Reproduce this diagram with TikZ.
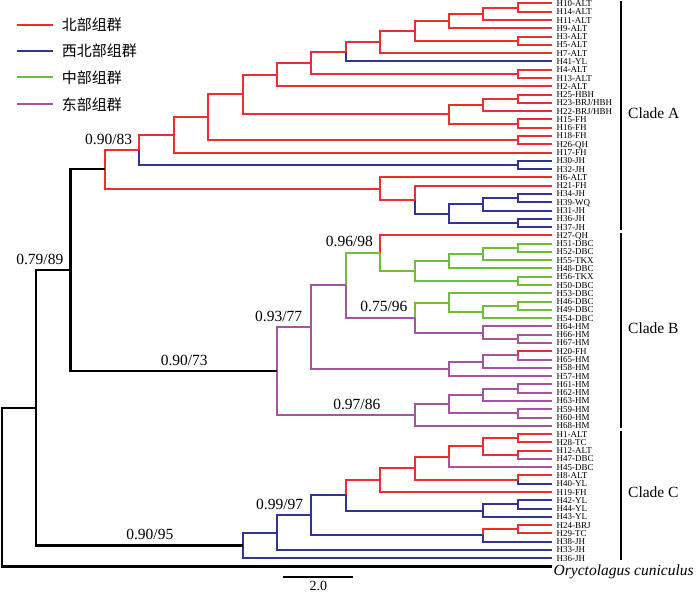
\documentclass[tikz,border=0pt]{standalone}
\usepackage{fontspec}
\setmainfont{Liberation Serif}
\newfontfamily\cjk{Noto Sans CJK SC}
\usetikzlibrary{calc}

\definecolor{northred}{RGB}{237,45,50}
\definecolor{nwblue}{RGB}{50,52,145}
\definecolor{centralgreen}{RGB}{110,190,60}
\definecolor{eastpurple}{RGB}{165,85,160}

\tikzset{
  branch/.style={line width=2pt},
  stem/.style={line width=2.3pt},
  leaf/.style={anchor=west, inner xsep=4.5pt, inner ysep=0pt, text height=6pt, text depth=0pt, font=\fontsize{9}{9}\selectfont},
  support/.style={anchor=base east, inner sep=0pt, font=\fontsize{15.5}{17}\selectfont},
  cladelab/.style={anchor=west, inner sep=0pt, font=\fontsize{15.5}{17}\selectfont},
  legendlab/.style={anchor=west, inner sep=0pt, font=\cjk\fontsize{15}{17}\selectfont},
}

% node #1 at depth #2 over children #3 (upper) and #4 (lower), colours #5 and #6
\newcommand\joinclade[6]{%
  \path let \p1=($(#3)!0.5!(#4)$) in coordinate (#1) at ({1.7pt+34.4pt*#2},\y1);
  \draw[branch,#5] (#1) |- (#3);
  \draw[branch,#6] (#1) |- (#4);
}

\begin{document}
\begin{tikzpicture}[x=1pt,y=-1pt]
    \useasboundingbox (0,0) rectangle (700,594);

    % legend
    \draw[branch,northred] (17.3,25) -- (53.3,25);
    \node[legendlab] (lg1) at (61.7,25) {北部组群};
    \draw[branch,nwblue] (17.3,50.7) -- (53.3,50.7);
    \node[legendlab] (lg2) at (61.7,50.7) {西北部组群};
    \draw[branch,centralgreen] (17.3,77.3) -- (53.3,77.3);
    \node[legendlab] (lg3) at (61.7,77.3) {中部组群};
    \draw[branch,eastpurple] (17.3,104.3) -- (53.3,104.3);
    \node[legendlab] (lg4) at (61.7,104.3) {东部组群};

    % haplotypes
    \foreach \lab [count=\i from 0] in {H10-ALT,H14-ALT,H11-ALT,H9-ALT,H3-ALT,H5-ALT,H7-ALT,H41-YL,
        H4-ALT,H13-ALT,H2-ALT,H25-HBH,H23-BRJ/HBH,H22-BRJ/HBH,H15-FH,H16-FH,H18-FH,H26-QH,H17-FH,
        H30-JH,H32-JH,H6-ALT,H21-FH,H34-JH,H39-WQ,H31-JH,H36-JH,H37-JH,
        H27-QH,H51-DBC,H52-DBC,H55-TKX,H48-DBC,H56-TKX,H50-DBC,H53-DBC,H46-DBC,H49-DBC,H54-DBC,
        H64-HM,H66-HM,H67-HM,H20-FH,H65-HM,H58-HM,H57-HM,H61-HM,H62-HM,H63-HM,H59-HM,H60-HM,H68-HM,
        H1-ALT,H28-TC,H12-ALT,H47-DBC,H45-DBC,H8-ALT,H40-YL,H19-FH,H42-YL,H44-YL,H43-YL,
        H24-BRJ,H29-TC,H38-JH,H33-JH,H36-JH}
        \node[leaf] (t\i) at (552,{3.5+8.28*\i}) {\lab};
    % outgroup
    \coordinate (t68) at (552,566.5);
    \node[anchor=base west, inner sep=0pt, font=\itshape\fontsize{15.5}{17}\selectfont] (og) at (553.5,575) {Oryctolagus cuniculus};

    % clade A
    \joinclade{a1}{15}{t0}{t1}{northred}{northred}
    \joinclade{a2}{14}{a1}{t2}{northred}{northred}
    \joinclade{a3}{13}{a2}{t3}{northred}{northred}
    \joinclade{a4}{15}{t4}{t5}{northred}{northred}
    \joinclade{a5}{12}{a3}{a4}{northred}{northred}
    \joinclade{a6}{11}{a5}{t6}{northred}{northred}
    \joinclade{a7}{10}{a6}{t7}{northred}{nwblue}
    \joinclade{a8}{15}{t8}{t9}{northred}{northred}
    \joinclade{a9}{9}{a7}{a8}{northred}{northred}
    \joinclade{a10}{8}{a9}{t10}{northred}{northred}
    \joinclade{a11}{15}{t11}{t12}{northred}{northred}
    \joinclade{a12}{14}{a11}{t13}{northred}{northred}
    \joinclade{a13}{15}{t14}{t15}{northred}{northred}
    \joinclade{a14}{13}{a12}{a13}{northred}{northred}
    \joinclade{a15}{7}{a10}{a14}{northred}{northred}
    \joinclade{a16}{15}{t16}{t17}{northred}{northred}
    \joinclade{a17}{6}{a15}{a16}{northred}{northred}
    \joinclade{a18}{5}{a17}{t18}{northred}{northred}
    \joinclade{a19}{15}{t19}{t20}{nwblue}{nwblue}
    \joinclade{a20}{4}{a18}{a19}{northred}{nwblue}
    \joinclade{a21}{15}{t23}{t24}{nwblue}{nwblue}
    \joinclade{a22}{14}{a21}{t25}{nwblue}{nwblue}
    \joinclade{a23}{15}{t26}{t27}{nwblue}{nwblue}
    \joinclade{a24}{13}{a22}{a23}{nwblue}{nwblue}
    \joinclade{a25}{12}{t22}{a24}{northred}{nwblue}
    \joinclade{a26}{11}{t21}{a25}{northred}{northred}
    \joinclade{a27}{3}{a20}{a26}{northred}{northred}

    % clade B
    \joinclade{b1}{15}{t29}{t30}{centralgreen}{centralgreen}
    \joinclade{b2}{14}{b1}{t31}{centralgreen}{centralgreen}
    \joinclade{b3}{13}{b2}{t32}{centralgreen}{centralgreen}
    \joinclade{b4}{15}{t33}{t34}{centralgreen}{centralgreen}
    \joinclade{b5}{12}{b3}{b4}{centralgreen}{centralgreen}
    \joinclade{b6}{11}{t28}{b5}{northred}{centralgreen}
    \joinclade{b7}{15}{t36}{t37}{centralgreen}{centralgreen}
    \joinclade{b8}{14}{b7}{t38}{centralgreen}{centralgreen}
    \joinclade{b9}{13}{t35}{b8}{centralgreen}{centralgreen}
    \joinclade{b10}{15}{t40}{t41}{eastpurple}{eastpurple}
    \joinclade{b11}{14}{t39}{b10}{eastpurple}{eastpurple}
    \joinclade{b12}{12}{b9}{b11}{centralgreen}{eastpurple}
    \joinclade{b13}{10}{b6}{b12}{centralgreen}{eastpurple}
    \joinclade{b14}{15}{t42}{t43}{northred}{eastpurple}
    \joinclade{b15}{14}{b14}{t44}{eastpurple}{eastpurple}
    \joinclade{b16}{13}{b15}{t45}{eastpurple}{eastpurple}
    \joinclade{b17}{9}{b13}{b16}{eastpurple}{eastpurple}
    \joinclade{b18}{15}{t46}{t47}{eastpurple}{eastpurple}
    \joinclade{b19}{14}{b18}{t48}{eastpurple}{eastpurple}
    \joinclade{b20}{15}{t49}{t50}{eastpurple}{eastpurple}
    \joinclade{b21}{13}{b19}{b20}{eastpurple}{eastpurple}
    \joinclade{b22}{12}{b21}{t51}{eastpurple}{eastpurple}
    \joinclade{b23}{8}{b17}{b22}{eastpurple}{eastpurple}

    % clade C
    \joinclade{c1}{15}{t52}{t53}{northred}{northred}
    \joinclade{c2}{15}{t54}{t55}{northred}{eastpurple}
    \joinclade{c3}{14}{c1}{c2}{northred}{northred}
    \joinclade{c4}{13}{c3}{t56}{northred}{eastpurple}
    \joinclade{c5}{15}{t57}{t58}{northred}{nwblue}
    \joinclade{c6}{12}{c4}{c5}{northred}{northred}
    \joinclade{c7}{11}{c6}{t59}{northred}{northred}
    \joinclade{c8}{15}{t60}{t61}{nwblue}{nwblue}
    \joinclade{c9}{14}{c8}{t62}{nwblue}{nwblue}
    \joinclade{c10}{10}{c7}{c9}{northred}{nwblue}
    \joinclade{c11}{15}{t63}{t64}{northred}{northred}
    \joinclade{c12}{14}{c11}{t65}{northred}{nwblue}
    \joinclade{c13}{9}{c10}{c12}{nwblue}{nwblue}
    \joinclade{c14}{8}{c13}{t66}{nwblue}{nwblue}
    \joinclade{c15}{7}{c14}{t67}{nwblue}{nwblue}

    % backbone
    \joinclade{r2}{2}{a27}{b23}{black,stem}{black,stem}
    \joinclade{r1}{1}{r2}{c15}{black,stem}{black,stem}
    \joinclade{root}{0}{r1}{t68}{black,stem}{black,stem}

    % support values
    \node[support] (s1) at ([xshift=-7pt,yshift=5.5pt]a20) {0.90/83};
    \node[support] (s2) at ([xshift=-7pt,yshift=5.5pt]r2) {0.79/89};
    \node[support] (s3) at ([xshift=-69pt,yshift=5.5pt]b23) {0.90/73};
    \node[support] (s4) at ([xshift=-9pt,yshift=6pt]b17) {0.93/77};
    \node[support] (s5) at ([xshift=-7pt,yshift=6.5pt]b6) {0.96/98};
    \node[support] (s6) at ([xshift=-7pt,yshift=6.5pt]b12) {0.75/96};
    \node[support] (s7) at ([xshift=-34pt,yshift=5.5pt]b22) {0.97/86};
    \node[support] (s8) at ([xshift=-8pt,yshift=5.5pt]c13) {0.99/97};
    \node[support] (s9) at ([xshift=-69pt,yshift=5.5pt]c15) {0.90/95};

    % clade bars
    \coordinate (ca1) at (621,1);    \coordinate (ca2) at (621,229.8);
    \coordinate (cb1) at (621,232.5); \coordinate (cb2) at (621,427.5);
    \coordinate (cc1) at (621,430.5); \coordinate (cc2) at (621,559.5);
    \draw[stem] (ca1) -- (ca2);
    \draw[stem] (cb1) -- (cb2);
    \draw[stem] (cc1) -- (cc2);
    \node[cladelab] (cla) at (628,113) {Clade A};
    \node[cladelab] (clb) at (628,328) {Clade B};
    \node[cladelab] (clc) at (628,492) {Clade C};

    % scale bar
    \coordinate (sb1) at (283.3,576.7);
    \coordinate (sb2) at (353.3,576.7);
    \draw[stem] (sb1) -- (sb2);
    \node[inner sep=0pt, font=\fontsize{14}{15}\selectfont] (sbl) at (318.3,586.3) {2.0};
\end{tikzpicture}
\end{document}
